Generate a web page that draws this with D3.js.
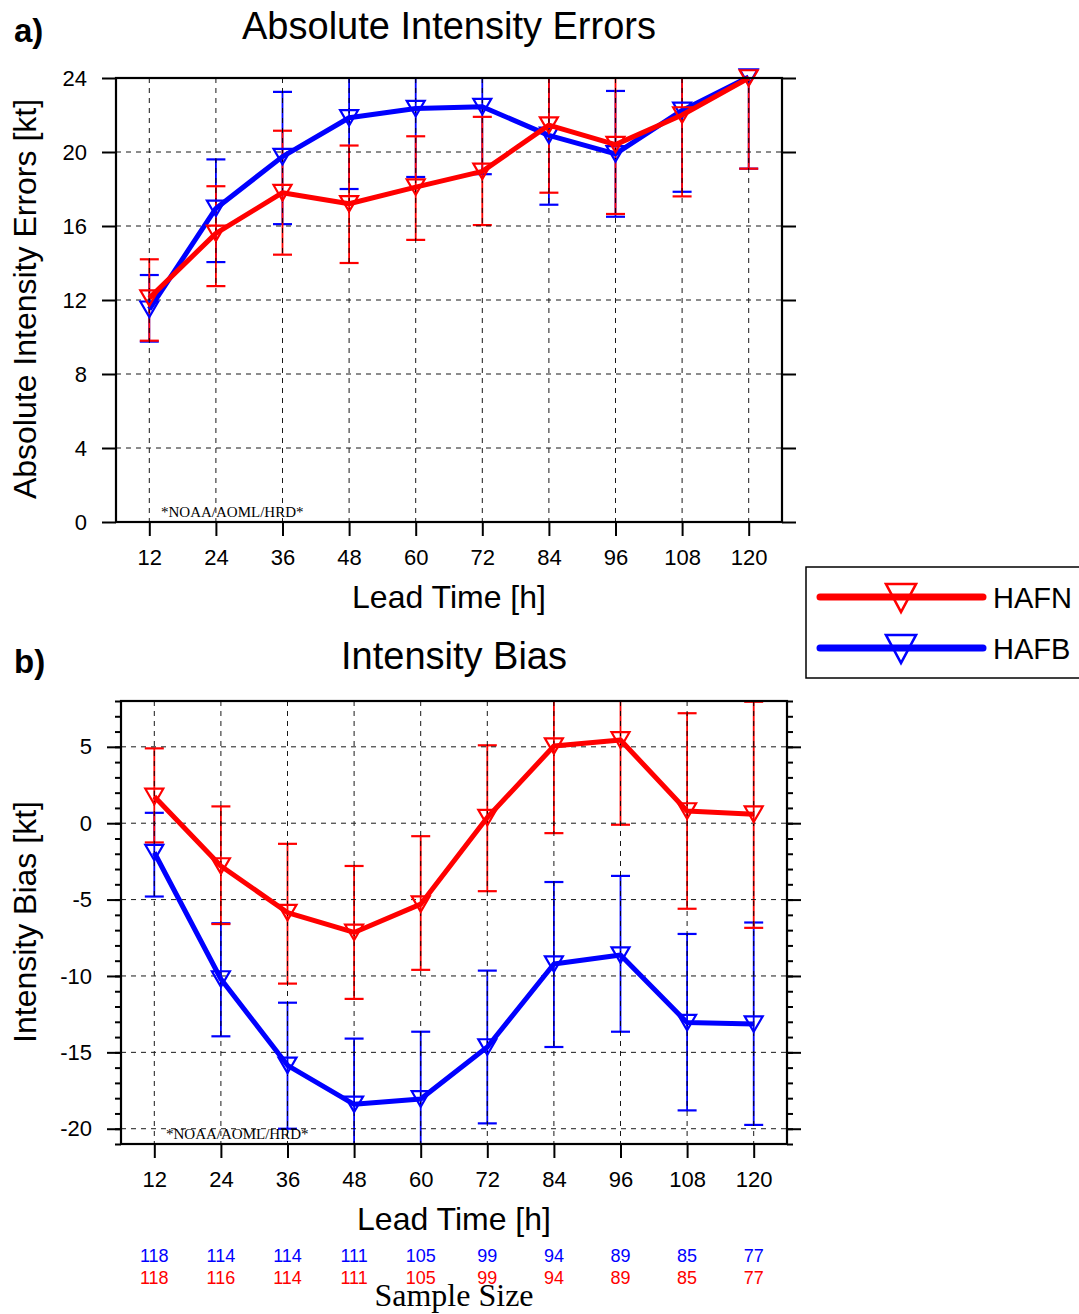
<!DOCTYPE html>
<html>
<head>
<meta charset="utf-8">
<script src="https://cdn.jsdelivr.net/npm/d3@7"></script>
<style>
  body { margin: 0; background: #fff; }
</style>
</head>
<body>
<div id="chart"></div>
<script>
// lead times (h)
const leadTimes = [12, 24, 36, 48, 60, 72, 84, 96, 108, 120];

// a) absolute intensity errors (kt) with error bar ends
const hafnAbs   = [12.1, 15.6, 17.8, 17.2, 18.1, 18.95, 21.45, 20.4, 22.0, 24.0];
const hafnAbsLo = [9.8, 12.75, 14.45, 14.0, 15.25, 16.05, 17.8, 16.65, 17.6, 19.1];
const hafnAbsHi = [14.2, 18.15, 21.15, 20.35, 20.85, 21.9, 25.1, 24.1, 26.4, 28.9];
const hafbAbs   = [11.5, 16.95, 19.75, 21.85, 22.35, 22.45, 20.9, 19.9, 22.25, 24.05];
const hafbAbsLo = [9.75, 14.05, 16.1, 18.0, 18.65, 18.8, 17.15, 16.5, 17.85, 19.1];
const hafbAbsHi = [13.35, 19.6, 23.25, 25.7, 26.05, 26.1, 24.65, 23.3, 26.65, 29.0];

// b) intensity bias (kt)
const hafnBias   = [1.75, -2.8, -5.85, -7.15, -5.3, 0.37, 5.05, 5.45, 0.8, 0.59];
const hafnBiasLo = [-1.26, -6.6, -10.5, -11.5, -9.6, -4.45, -0.65, -0.1, -5.6, -6.85];
const hafnBiasHi = [4.9, 1.1, -1.35, -2.8, -0.85, 5.1, 10.7, 11.0, 7.2, 7.95];
const hafbBias   = [-1.92, -10.2, -15.85, -18.4, -18.05, -14.65, -9.22, -8.63, -13.05, -13.15];
const hafbBiasLo = [-4.8, -13.95, -20.0, -22.6, -22.4, -19.65, -14.65, -13.65, -18.8, -19.75];
const hafbBiasHi = [0.68, -6.55, -11.75, -14.1, -13.65, -9.65, -3.85, -3.45, -7.25, -6.5];

// sample sizes
const sampleHAFB = [118, 114, 114, 111, 105, 99, 94, 89, 85, 77];
const sampleHAFN = [118, 116, 114, 111, 105, 99, 94, 89, 85, 77];

const absTicks = [0, 4, 8, 12, 16, 20, 24];
const biasTicks = [-20, -15, -10, -5, 0, 5];
const biasMinor = d3.range(-21, 9);

const RED = "#ff0000", BLUE = "#0000ff";
const SANS = "'Liberation Sans', Arial, Helvetica, sans-serif";
const SERIF = "'Liberation Serif', 'Times New Roman', 'DejaVu Serif', serif";

const width = 1079, height = 1314;
const svg = d3.select("#chart").append("svg")
    .attr("width", width)
    .attr("height", height)
    .attr("viewBox", [0, 0, width, height])
    .style("font-family", SANS);

// open, point-down triangle centred on its bounding box
function triangle(w, h) {
    return `M${-w / 2},${-h / 2}L${w / 2},${-h / 2}L0,${h / 2}Z`;
}

function drawPanel(o) {
    const x = d3.scaleLinear([6, 126], [o.left, o.right]);
    const y = d3.scaleLinear(o.domain, [o.bottom, o.top]);
    const g = svg.append("g");

    g.append("clipPath").attr("id", o.id + "-clip")
      .append("rect")
        .attr("x", o.left).attr("y", o.top)
        .attr("width", o.right - o.left).attr("height", o.bottom - o.top);

    // error bars (under the grid)
    const bars = g.append("g").attr("clip-path", `url(#${o.id}-clip)`);
    o.series.forEach(s => {
        const eb = bars.append("g").attr("stroke", s.color).attr("stroke-width", 1.8);
        leadTimes.forEach((t, i) => {
            eb.append("line")
                .attr("x1", x(t)).attr("x2", x(t))
                .attr("y1", y(s.lo[i])).attr("y2", y(s.hi[i]));
            [s.lo[i], s.hi[i]].forEach(v => {
                eb.append("line")
                    .attr("x1", x(t) - 9.5).attr("x2", x(t) + 9.5)
                    .attr("y1", y(v)).attr("y2", y(v))
                    .attr("stroke-width", 2.2);
            });
        });
    });

    // dashed grid
    const grid = g.append("g")
        .attr("stroke", "#000").attr("stroke-width", 1)
        .attr("stroke-dasharray", "5,5").attr("opacity", 0.9);
    grid.selectAll(".vx").data(leadTimes).join("line")
        .attr("x1", d => x(d)).attr("x2", d => x(d))
        .attr("y1", o.top).attr("y2", o.bottom);
    grid.selectAll(".hy").data(o.ticks.filter(d => y(d) > o.top + 1 && y(d) < o.bottom - 1)).join("line")
        .attr("x1", o.left).attr("x2", o.right)
        .attr("y1", d => y(d)).attr("y2", d => y(d));

    // data lines and markers
    const line = d3.line().x((d, i) => x(leadTimes[i])).y(d => y(d));
    o.series.forEach(s => {
        g.append("path")
            .attr("d", line(s.values))
            .attr("fill", "none")
            .attr("stroke", s.color)
            .attr("stroke-width", 5)
            .attr("stroke-linejoin", "round");
        g.append("g").selectAll("path").data(s.values).join("path")
            .attr("d", triangle(18, 15.5))
            .attr("transform", (d, i) => `translate(${x(leadTimes[i])},${y(d)})`)
            .attr("fill", "none")
            .attr("stroke", s.color)
            .attr("stroke-width", 2.2);
    });

    // axes (plain hyphen for negatives, as in the original)
    const fmt = d => String(d);
    const axisStyle = sel => {
        sel.select(".domain").remove();
        sel.selectAll(".tick line").attr("stroke", "#000").attr("stroke-width", 2);
        sel.selectAll(".tick text").attr("fill", "#000")
            .style("font-size", "22px").style("font-family", SANS);
    };
    if (o.minor) {
        g.append("g").attr("transform", `translate(${o.left},0)`)
            .call(d3.axisLeft(y).tickValues(o.minor).tickSize(6).tickFormat(""))
            .call(axisStyle);
        g.append("g").attr("transform", `translate(${o.right},0)`)
            .call(d3.axisRight(y).tickValues(o.minor).tickSize(6).tickFormat(""))
            .call(axisStyle);
    }
    g.append("g").attr("transform", `translate(${o.left},0)`)
        .call(d3.axisLeft(y).tickValues(o.ticks).tickSize(14).tickPadding(15).tickFormat(fmt))
        .call(axisStyle);
    g.append("g").attr("transform", `translate(${o.right},0)`)
        .call(d3.axisRight(y).tickValues(o.ticks).tickSize(14).tickFormat(""))
        .call(axisStyle);
    g.append("g").attr("transform", `translate(0,${o.bottom})`)
        .call(d3.axisBottom(x).tickValues(leadTimes).tickSize(14).tickPadding(13).tickFormat(fmt))
        .call(axisStyle);

    // frame
    g.append("rect")
        .attr("x", o.left).attr("y", o.top)
        .attr("width", o.right - o.left).attr("height", o.bottom - o.top)
        .attr("fill", "none").attr("stroke", "#000").attr("stroke-width", 2.2);

    // watermark
    g.append("text")
        .attr("x", o.left + 45).attr("y", o.bottom - 5)
        .style("font-family", SERIF)
        .style("font-size", "15px")
        .text("*NOAA/AOML/HRD*");

    // titles
    const cx = (o.left + o.right) / 2;
    g.append("text").attr("x", cx).attr("y", o.titleY)
        .attr("text-anchor", "middle").style("font-size", "38px").text(o.title);
    g.append("text").attr("x", 14).attr("y", o.labelY)
        .style("font-family", "'Liberation Sans Narrow', " + SANS)
        .style("font-weight", "bold").style("font-size", "33px").text(o.label);
    g.append("text").attr("x", cx).attr("y", o.bottom + 86)
        .attr("text-anchor", "middle").style("font-size", "32px").text("Lead Time [h]");
    g.append("text")
        .attr("transform", `translate(36,${o.yTitleY}) rotate(-90)`)
        .attr("text-anchor", "middle").style("font-size", "32px").text(o.yTitle);

    return x;
}

drawPanel({
    id: "abs", left: 116, right: 782, top: 78, bottom: 522,
    domain: [0, 24], ticks: absTicks,
    title: "Absolute Intensity Errors", titleY: 39, label: "a)", labelY: 42,
    yTitle: "Absolute Intensity Errors [kt]", yTitleY: 299,
    series: [
        { color: BLUE, values: hafbAbs, lo: hafbAbsLo, hi: hafbAbsHi },
        { color: RED, values: hafnAbs, lo: hafnAbsLo, hi: hafnAbsHi }
    ]
});

const xb = drawPanel({
    id: "bias", left: 121, right: 787, top: 701, bottom: 1144,
    domain: [-21, 8], ticks: biasTicks, minor: biasMinor,
    title: "Intensity Bias", titleY: 669, label: "b)", labelY: 673,
    yTitle: "Intensity Bias [kt]", yTitleY: 922,
    series: [
        { color: BLUE, values: hafbBias, lo: hafbBiasLo, hi: hafbBiasHi },
        { color: RED, values: hafnBias, lo: hafnBiasLo, hi: hafnBiasHi }
    ]
});

// sample sizes
const ss = svg.append("g").attr("text-anchor", "middle").style("font-size", "18px");
ss.selectAll(".b").data(sampleHAFB).join("text")
    .attr("x", (d, i) => xb(leadTimes[i])).attr("y", 1262)
    .attr("fill", BLUE).text(d => d);
ss.selectAll(".r").data(sampleHAFN).join("text")
    .attr("x", (d, i) => xb(leadTimes[i])).attr("y", 1284)
    .attr("fill", RED).text(d => d);
svg.append("text").attr("x", 454).attr("y", 1306)
    .attr("text-anchor", "middle")
    .style("font-family", SERIF)
    .style("font-size", "32px").text("Sample Size");

// legend
const legendItems = [{ name: "HAFN", color: RED }, { name: "HAFB", color: BLUE }];
const lg = svg.append("g");
lg.append("rect").attr("x", 806).attr("y", 567).attr("width", 300).attr("height", 111)
    .attr("fill", "#fff").attr("stroke", "#000").attr("stroke-width", 1.5);
legendItems.forEach((d, i) => {
    const ly = 597 + i * 51;
    lg.append("line").attr("x1", 820).attr("x2", 983).attr("y1", ly).attr("y2", ly)
        .attr("stroke", d.color).attr("stroke-width", 7).attr("stroke-linecap", "round");
    lg.append("path").attr("d", triangle(30, 28))
        .attr("transform", `translate(901,${ly + 1})`)
        .attr("fill", "none").attr("stroke", d.color).attr("stroke-width", 2.6);
    lg.append("text").attr("x", 993).attr("y", ly + 11).style("font-size", "29px").text(d.name);
});
</script>
</body>
</html>
